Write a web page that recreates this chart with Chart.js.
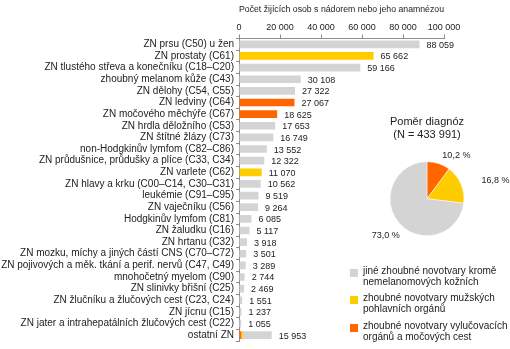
<!DOCTYPE html>
<html lang="cs">
<head>
<meta charset="utf-8">
<script src="https://cdn.jsdelivr.net/npm/chart.js@4/dist/chart.umd.min.js"></script>
<style>
  html, body { margin: 0; padding: 0; background: #fff; }
  body {
    width: 510px; height: 349px; position: relative; overflow: hidden;
    font-family: "Liberation Sans", Arial, sans-serif; color: #222;
  }
  #barChart { position: absolute; left: 0; top: 0; }
  #pieChart { position: absolute; left: 340px; top: 112px; }
  .legend-item { position: absolute; left: 350px; font-size: 10px; line-height: 11px; padding-left: 13px; white-space: nowrap; }
  .legend-item i { position: absolute; left: 0; top: 4px; width: 8px; height: 8px; }
</style>
</head>
<body>
<canvas id="barChart" width="510" height="349"></canvas>
<canvas id="pieChart" width="170" height="150"></canvas>

<div class="legend-item" style="top:264.5px"><i style="background:#d4d4d4"></i>jiné zhoubné novotvary kromě<br>nemelanomových kožních</div>
<div class="legend-item" style="top:291.5px"><i style="background:#ffcc00"></i>zhoubné novotvary mužských<br>pohlavních orgánů</div>
<div class="legend-item" style="top:319.5px"><i style="background:#ff6600"></i>zhoubné novotvary vylučovacích<br>orgánů a močových cest</div>

<script>
"use strict";

// ── Data ──────────────────────────────────────────────────────────────────────
const categories = [
  "ZN prsu (C50) u žen",
  "ZN prostaty (C61)",
  "ZN tlustého střeva a konečníku (C18–C20)",
  "zhoubný melanom kůže (C43)",
  "ZN dělohy (C54, C55)",
  "ZN ledviny (C64)",
  "ZN močového měchýře (C67)",
  "ZN hrdla děložního (C53)",
  "ZN štítné žlázy (C73)",
  "non-Hodgkinův lymfom (C82–C86)",
  "ZN průdušnice, průdušky a plíce (C33, C34)",
  "ZN varlete (C62)",
  "ZN hlavy a krku (C00–C14, C30–C31)",
  "leukémie (C91–C95)",
  "ZN vaječníku (C56)",
  "Hodgkinův lymfom (C81)",
  "ZN žaludku (C16)",
  "ZN hrtanu (C32)",
  "ZN mozku, míchy a jiných částí CNS (C70–C72)",
  "ZN pojivových a měk. tkání a perif. nervů (C47, C49)",
  "mnohočetný myelom (C90)",
  "ZN slinivky břišní (C25)",
  "ZN žlučníku a žlučových cest (C23, C24)",
  "ZN jícnu (C15)",
  "ZN jater a intrahepatálních žlučových cest (C22)",
  "ostatní ZN",
];

const totals = [
  88059, 65662, 59166, 30108, 27322, 27067, 18625, 17653, 16749, 13552,
  12322, 11070, 10562, 9519, 9264, 6085, 5117, 3918, 3501, 3289,
  2744, 2469, 1551, 1237, 1055, 15953,
];

// o = other, g = male genital organs, u = urinary organs
const groups = [
  "o", "g", "o", "o", "o", "u", "u", "o", "o", "o",
  "o", "g", "o", "o", "o", "o", "o", "o", "o", "o",
  "o", "o", "o", "o", "o", "mixed",
];

// split of the "ostatní ZN" bar
const mixedUrinary = 1100;
const mixedGenital = 800;

const pieGroups = ["vylučovací orgány", "mužské pohlavní orgány", "ostatní"];
const pieShares = [10.2, 16.8, 73.0];
const pieN = 433991;

const axisTicks = [0, 20000, 40000, 60000, 80000, 100000];

// ── Styles ────────────────────────────────────────────────────────────────────
const FONT = '"Liberation Sans", Arial, sans-serif';
const GRAY = "#d4d4d4";
const YELLOW = "#ffcc00";
const ORANGE = "#ff6600";
const AXIS = "#8c8c8c";
const TEXT = "#222";

function fmt(v) {
  return String(v).replace(/\B(?=(\d{3})+(?!\d))/g, " ");
}

// ── Bar datasets ──────────────────────────────────────────────────────────────
const urinary = totals.map((t, i) =>
  groups[i] === "u" ? t : groups[i] === "mixed" ? mixedUrinary : 0);
const genital = totals.map((t, i) =>
  groups[i] === "g" ? t : groups[i] === "mixed" ? mixedGenital : 0);
const other = totals.map((t, i) =>
  groups[i] === "o" ? t : groups[i] === "mixed" ? t - mixedUrinary - mixedGenital : 0);

const valueLabels = {
  id: "valueLabels",
  afterDatasetsDraw(chart) {
    const { ctx, scales: { x, y } } = chart;
    ctx.save();
    ctx.font = `9px ${FONT}`;
    ctx.fillStyle = TEXT;
    ctx.textBaseline = "middle";
    totals.forEach((t, i) => {
      ctx.fillText(fmt(t), x.getPixelForValue(t) + 7, y.getPixelForValue(i) + 1);
    });
    ctx.restore();
  },
};

const barStyle = { categoryPercentage: 0.66, barPercentage: 1, borderWidth: 0 };

new Chart(document.getElementById("barChart"), {
  type: "bar",
  data: {
    labels: categories,
    datasets: [
      { data: urinary, backgroundColor: ORANGE, ...barStyle },
      { data: genital, backgroundColor: YELLOW, ...barStyle },
      { data: other, backgroundColor: GRAY, ...barStyle },
    ],
  },
  options: {
    indexAxis: "y",
    responsive: false,
    animation: false,
    layout: { padding: { left: 0, right: 66, top: 0, bottom: 5.5 } },
    plugins: { legend: { display: false }, tooltip: { enabled: false } },
    scales: {
      x: {
        position: "top",
        stacked: true,
        min: 0,
        max: 100000,
        afterBuildTicks: (s) => { s.ticks = axisTicks.map(v => ({ value: v })); },
        afterFit: (s) => { s.height = 38.5; },
        ticks: { callback: (v) => fmt(v), font: { family: FONT, size: 9 }, color: TEXT, padding: 2, maxRotation: 0 },
        grid: { drawOnChartArea: false, tickLength: 4, color: AXIS },
        border: { color: AXIS },
        title: {
          display: true,
          text: "Počet žijících osob s nádorem nebo jeho anamnézou",
          font: { family: FONT, size: 9.7 },
          color: TEXT,
          padding: { top: 4, bottom: 0 },
        },
      },
      y: {
        stacked: true,
        afterFit: (s) => { s.width = 239; },
        ticks: { font: { family: FONT, size: 10 }, color: TEXT, padding: 2, autoSkip: false },
        grid: { drawOnChartArea: false, tickLength: 3, color: AXIS, offset: true },
        border: { color: AXIS },
      },
    },
  },
  plugins: [valueLabels],
});

// ── Pie ───────────────────────────────────────────────────────────────────────
const labelDistance = [52, 70, 55];
const labelNudge = [[13, 6], [4, 9], [0, 0]];

const pieLabels = {
  id: "pieLabels",
  afterDatasetsDraw(chart) {
    const { ctx } = chart;
    ctx.save();
    ctx.font = `9px ${FONT}`;
    ctx.fillStyle = TEXT;
    ctx.textAlign = "center";
    ctx.textBaseline = "middle";
    chart.getDatasetMeta(0).data.forEach((arc, i) => {
      const mid = (arc.startAngle + arc.endAngle) / 2;
      const px = arc.x + Math.cos(mid) * labelDistance[i] + labelNudge[i][0];
      const py = arc.y + Math.sin(mid) * labelDistance[i] + labelNudge[i][1];
      ctx.fillText(pieShares[i].toFixed(1).replace(".", ",") + " %", px, py);
    });
    ctx.restore();
  },
};

new Chart(document.getElementById("pieChart"), {
  type: "pie",
  data: {
    labels: pieGroups,
    datasets: [{
      data: pieShares,
      backgroundColor: [ORANGE, YELLOW, GRAY],
      borderColor: "#fff",
      borderWidth: 0.5,
    }],
  },
  options: {
    responsive: false,
    animation: false,
    radius: 37,
    layout: { padding: { left: 4, bottom: 6 } },
    plugins: {
      legend: { display: false },
      tooltip: { enabled: false },
      title: {
        display: true,
        text: ["Poměr diagnóz", `(N = ${fmt(pieN)})`],
        font: { family: FONT, size: 11, weight: "normal" },
        color: TEXT,
        padding: { top: 3, bottom: 0 },
      },
    },
  },
  plugins: [pieLabels],
});
</script>
</body>
</html>
